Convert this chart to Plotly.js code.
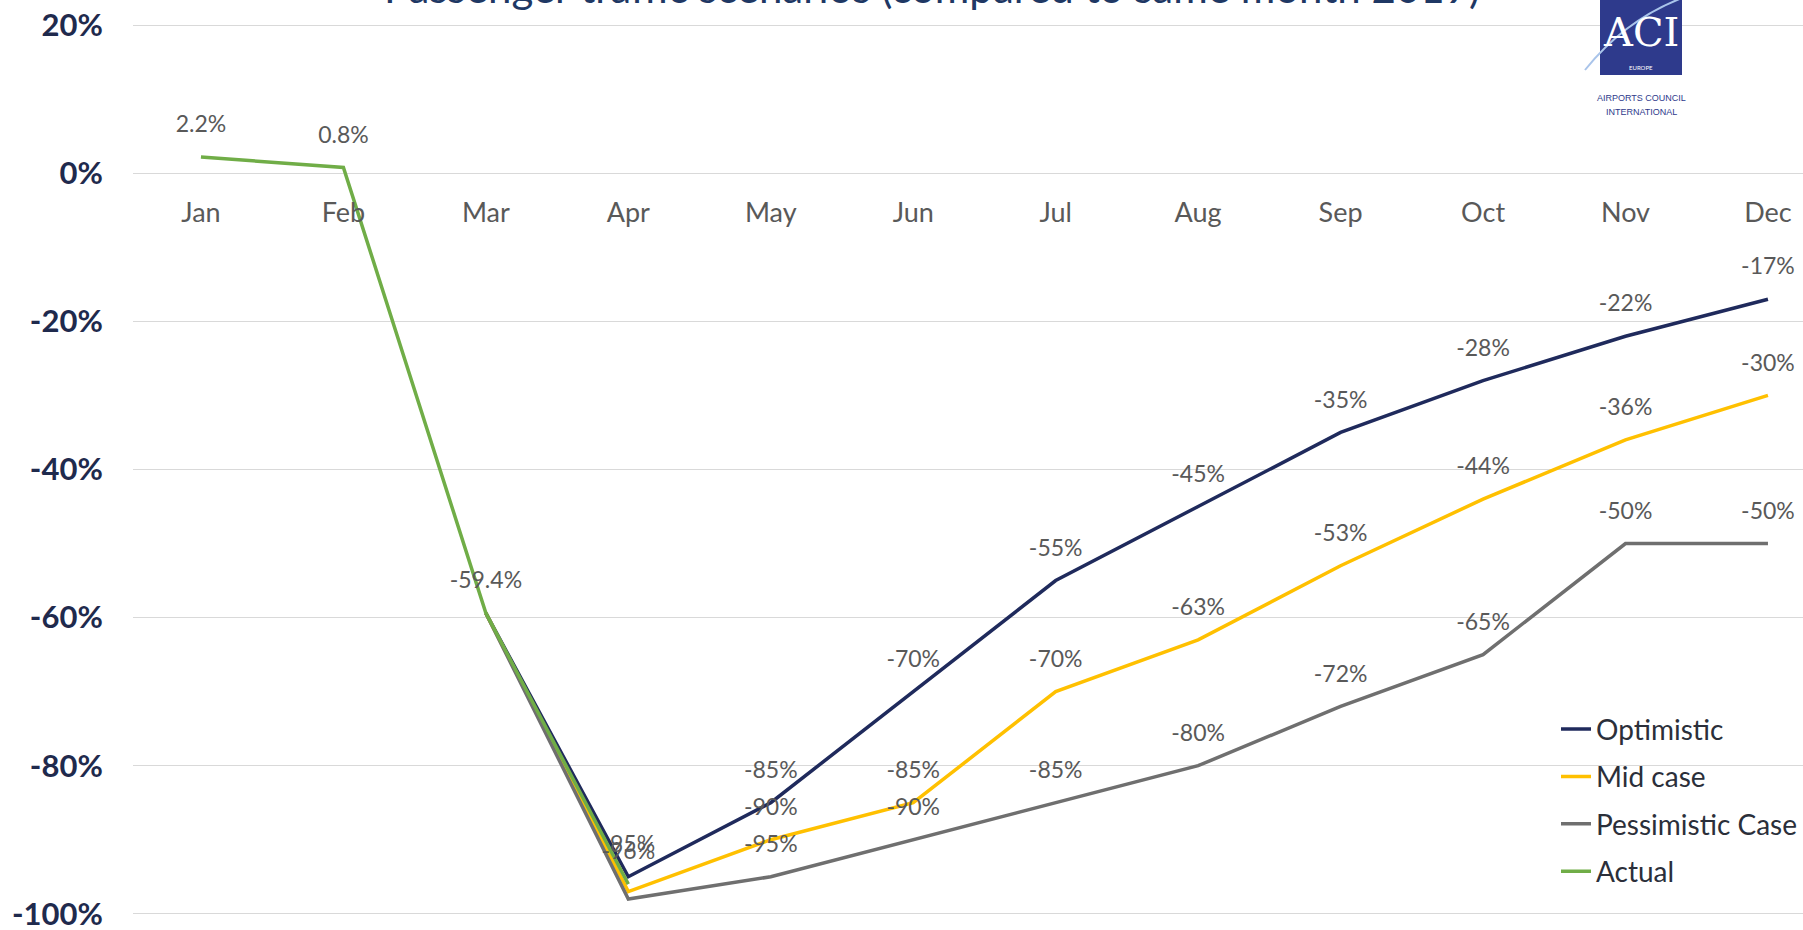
<!DOCTYPE html>
<html>
<head>
<meta charset="utf-8">
<script src="https://cdn.plot.ly/plotly-3.0.1.min.js"></script>
<style>html,body{margin:0;padding:0;background:#fff;}#chart{width:1803px;height:930px;}</style>
</head>
<body>
<div id="chart"></div>
<script>
const months = ['Jan','Feb','Mar','Apr','May','Jun','Jul','Aug','Sep','Oct','Nov','Dec'];
const actual      = [2.2, 0.8, -59.4, -96, null, null, null, null, null, null, null, null];
const optimistic  = [null, null, -59.4, -95, -85, -70, -55, -45, -35, -28, -22, -17];
const midCase     = [null, null, -59.4, -97, -90, -85, -70, -63, -53, -44, -36, -30];
const pessimistic = [null, null, -59.4, -98, -95, -90, -85, -80, -72, -65, -50, -50];
const yTickVals   = [-100, -80, -60, -40, -20, 0, 20];
const yTickText   = ['-100%', '-80%', '-60%', '-40%', '-20%', '0%', '20%'];
const titleText   = 'Passenger traffic scenarios (compared to same month 2019)';

function labels(arr, hideIdx) {
  return arr.map((v, i) => (v === null || hideIdx.indexOf(i) >= 0) ? '' : (String(v) + '%'));
}

const labelFont = {family: 'Lato, "Open Sans", sans-serif', size: 23, color: '#595959'};

function series(name, vals, color, hideIdx, group) {
  return {
    type: 'scatter', mode: 'lines+markers+text', name: name, x: months, y: vals,
    line: {color: color, width: 3.5},
    marker: {size: 29, opacity: 0, color: 'rgba(0,0,0,0)', line: {width: 0}},
    text: labels(vals, hideIdx), textposition: 'top center', textfont: labelFont,
    legendgroup: group, connectgaps: false, cliponaxis: false, hoverinfo: 'x+y'
  };
}

const traces = [
  series('Optimistic', optimistic, '#1f2a5c', [2], 'g1'),
  series('Mid case', midCase, '#ffc000', [2, 3], 'g2'),
  series('Pessimistic Case', pessimistic, '#6f6f6f', [2, 3], 'g3'),
  series('Actual', actual, '#70ad47', [], 'g4')
];

const L = 133, T = 23, PW = 1803 - 133, PH = 930 - 23 - 14;
function px(x) { return (x - L) / PW; }
function py(y) { return 1 - (y - T) / PH; }

const layout = {
  width: 1803, height: 930,
  margin: {l: 133, r: 0, t: 23, b: 14, pad: 0},
  paper_bgcolor: '#ffffff', plot_bgcolor: '#ffffff',
  showlegend: true,
  legend: {
    x: 1, y: 0.237, xanchor: 'right', yanchor: 'top',
    font: {family: 'Lato, "Open Sans", sans-serif', size: 28, color: '#2b2f3a'},
    bgcolor: 'rgba(255,255,255,0)', traceorder: 'grouped', tracegroupgap: 8
  },
  xaxis: {
    type: 'category', range: [-0.477, 11.246], anchor: 'free', position: 100 / 120,
    showgrid: false, zeroline: false, showline: false,
    ticks: 'outside', ticklen: 17, tickcolor: 'rgba(0,0,0,0)',
    tickfont: {family: 'Lato, "Open Sans", sans-serif', size: 27, color: '#595959'}
  },
  yaxis: {
    range: [-100.3, 20.3], tickvals: yTickVals, ticktext: yTickText, ticklabeloverflow: 'allow',
    showgrid: true, gridcolor: '#d9d9d9', gridwidth: 1.2, zeroline: false, showline: false,
    ticks: 'outside', ticklen: 23, tickcolor: 'rgba(0,0,0,0)',
    tickfont: {family: 'Lato, "Open Sans", sans-serif', size: 31, color: '#1f2a4d', weight: 'bold'}
  },
  shapes: [
    {type: 'rect', xref: 'paper', yref: 'paper', x0: px(1600), x1: px(1682), y0: py(75), y1: py(-5),
     fillcolor: '#2e3a8c', line: {width: 0}, layer: 'above'},
    {type: 'path', xref: 'paper', yref: 'paper',
     path: 'M ' + px(1585) + ' ' + py(70) + ' Q ' + px(1625) + ' ' + py(20) + ' ' + px(1682) + ' ' + py(-2),
     line: {color: '#a9c4ea', width: 2}, layer: 'above'}
  ],
  annotations: [
    {xref: 'paper', yref: 'paper', x: px(932), y: 1, yshift: 9, xanchor: 'center', yanchor: 'bottom',
     text: titleText, showarrow: false,
     font: {family: 'Lato, "Open Sans", sans-serif', size: 42, color: '#1f3864'}},
    {xref: 'paper', yref: 'paper', x: px(1641), y: py(32), xanchor: 'center', yanchor: 'middle',
     text: 'ACI', showarrow: false,
     font: {family: '"DejaVu Serif", serif', size: 40, color: '#ffffff'}},
    {xref: 'paper', yref: 'paper', x: px(1641), y: py(68), xanchor: 'center', yanchor: 'middle',
     text: 'EUROPE', showarrow: false,
     font: {family: 'Lato, sans-serif', size: 6, color: '#ffffff'}},
    {xref: 'paper', yref: 'paper', x: px(1641), y: py(98), xanchor: 'center', yanchor: 'middle',
     text: 'AIRPORTS COUNCIL', showarrow: false,
     font: {family: '"Liberation Sans Narrow", "Liberation Sans", sans-serif', size: 9, color: '#2e3a8c'}},
    {xref: 'paper', yref: 'paper', x: px(1641), y: py(112), xanchor: 'center', yanchor: 'middle',
     text: 'INTERNATIONAL', showarrow: false,
     font: {family: '"Liberation Sans Narrow", "Liberation Sans", sans-serif', size: 9, color: '#2e3a8c'}}
  ]
};

Plotly.newPlot('chart', traces, layout, {displayModeBar: false, staticPlot: true});
</script>
</body>
</html>
